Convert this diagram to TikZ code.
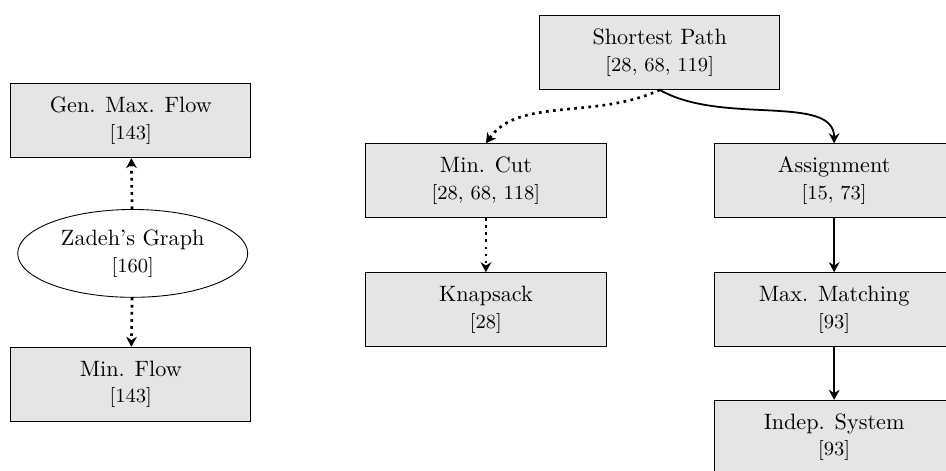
\documentclass[tikz,border=0pt]{standalone}
\usepackage{tikz}
\usetikzlibrary{arrows.meta,shapes.geometric}

\begin{document}
\begin{tikzpicture}[
  prob/.style={draw,fill=gray!20,align=center,minimum width=3.8cm,minimum height=1.17cm},
  dotarr/.style={-{Stealth[length=4.5pt,width=4.8pt]},very thick,dotted},
  solarr/.style={-{Stealth[length=4.5pt,width=4.8pt]},thick}]
  \useasboundingbox (0,0) rectangle (14.97,-7.45);
  % Zadeh's graph and the two flow problems
  \node[prob] (genmax) at (2.07,-1.91) {Gen. Max. Flow\\{\small [143]}};
  \node[draw,ellipse,fill=white,align=center,minimum width=3.64cm,minimum height=1.22cm]
    (zadeh) at (2.1,-4.01) {Zadeh's Graph\\{\small [160]}};
  \node[prob] (minflow) at (2.07,-6.08) {Min. Flow\\{\small [143]}};
  \draw[dotarr] (zadeh) -- (genmax);
  \draw[dotarr] (zadeh) -- (minflow);
  % Shortest path and what follows from it
  \node[prob] (spath) at (10.44,-0.83) {Shortest Path\\{\small [28, 68, 119]}};
  \node[prob] (mincut) at (7.69,-2.86) {Min. Cut\\{\small [28, 68, 118]}};
  \node[prob] (assign) at (13.2,-2.86) {Assignment\\{\small [15, 73]}};
  \node[prob] (knap) at (7.69,-4.9) {Knapsack\\{\small [28]}};
  \node[prob] (maxmatch) at (13.2,-4.9) {Max. Matching\\{\small [93]}};
  \node[prob] (indep) at (13.2,-6.92) {Indep. System\\{\small [93]}};
  \draw[dotarr] (spath.south) to[out=205,in=55,in looseness=0.8] (mincut.north);
  \draw[solarr] (spath.south) to[out=-30,in=90,in looseness=0.7] (assign.north);
  \draw[dotarr] (mincut) -- (knap);
  \draw[solarr] (assign) -- (maxmatch);
  \draw[solarr] (maxmatch) -- (indep);
\end{tikzpicture}
\end{document}
